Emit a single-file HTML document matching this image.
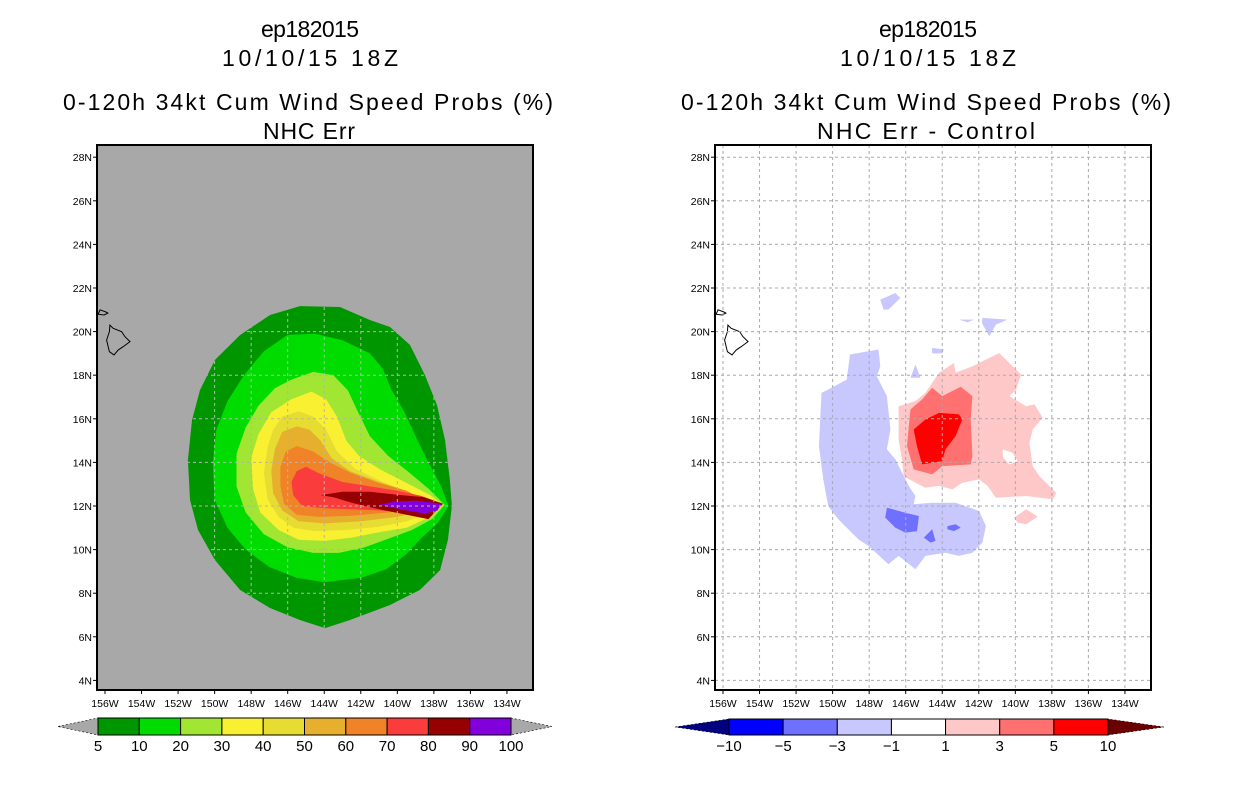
<!DOCTYPE html>
<html><head><meta charset="utf-8"><style>
html,body{margin:0;padding:0;background:#fff}
svg{display:block}
text{font-family:"Liberation Sans",sans-serif;fill:#000}
</style></head><body>
<svg id="chart" width="1236" height="800" viewBox="0 0 1236 800" xmlns="http://www.w3.org/2000/svg">
<g id="titles">
<text x="310" y="37" font-size="23" text-anchor="middle" textLength="98">ep182015</text>
<text x="310" y="66" font-size="23" text-anchor="middle" textLength="176">10/10/15 18Z</text>
<text x="308" y="110" font-size="23" text-anchor="middle" textLength="490">0-120h 34kt Cum Wind Speed Probs (%)</text>
<text x="309" y="139" font-size="23" text-anchor="middle" textLength="92">NHC Err</text>
<text x="928" y="37" font-size="23" text-anchor="middle" textLength="98">ep182015</text>
<text x="928" y="66" font-size="23" text-anchor="middle" textLength="176">10/10/15 18Z</text>
<text x="926" y="110" font-size="23" text-anchor="middle" textLength="490">0-120h 34kt Cum Wind Speed Probs (%)</text>
<text x="926" y="139" font-size="23" text-anchor="middle" textLength="218">NHC Err - Control</text>
</g>
</svg>
<script>
// ---- data (lon in deg W, lat in deg N) ----
const lonTicks=[156,154,152,150,148,146,144,142,140,138,136,134];
const latTicks=[28,26,24,22,20,18,16,14,12,10,8,6,4];
const probLevels=[5,10,20,30,40,50,60,70,80,90,100];
const probColors=["#009600","#00dc00","#a0e632","#faf032","#e6dc32","#e6af2d","#f08228","#fa3c3c","#960000","#8200dc"];
const diffLevels=[-10,-5,-3,-1,1,3,5,10];
const diffColors=["#0000ff","#7070ff","#c8c8ff","#ffffff","#ffc8c8","#ff7070","#ff0000"];
const prob5=[[145.33,21.17],[143.14,21.13],[141.5,20.53],[140.4,20.21],[139.31,19.39],[138.49,18.01],[137.83,16.63],[137.39,15.03],[137.12,13.19],[137.01,12],[137.23,10.44],[137.66,9.06],[138.76,8.15],[140.4,7.46],[142.59,6.77],[143.96,6.4],[145.33,6.77],[146.97,7.32],[148.61,8.15],[149.98,9.52],[150.91,10.9],[151.35,12.28],[151.46,14.11],[151.24,15.94],[150.8,17.32],[149.98,18.7],[148.61,19.84],[146.97,20.76]];
const prob10=[[146,19.85],[144.5,19.9],[143,19.6],[141.5,19.0],[140.8,18.3],[140.3,17.3],[139.6,16.3],[139,15.2],[138.3,14],[137.6,12.9],[137.2,12],[137.8,11.2],[138.6,10.6],[139.5,9.8],[140.6,9.1],[142,8.7],[144,8.5],[145.5,8.7],[147,9.2],[148.3,10],[149.3,11],[150,12.3],[150.1,14],[149.9,15.5],[149.3,16.8],[148.4,18],[147.3,19.1]];
const prob20=[[145.8,17.8],[144.6,18.15],[143.5,18],[142.7,17.3],[142.2,16.4],[141.5,15.2],[140.5,14.3],[139.3,13.5],[138.3,12.8],[137.4,12.05],[138.1,11.4],[139.2,10.9],[140.5,10.5],[141.8,10.1],[143.2,9.85],[144.6,9.85],[146,10.1],[147.3,10.7],[148.3,11.7],[148.8,12.9],[148.8,14.4],[148.3,15.6],[147.6,16.6],[146.7,17.4]];
const prob30=[[145.8,16.9],[144.7,17.25],[143.9,16.9],[143.3,16.1],[142.8,15],[142.1,14.3],[141,13.7],[139.6,13.1],[138.2,12.5],[137.5,12.05],[138.2,11.5],[139.5,11],[141,10.8],[142.5,10.55],[144,10.4],[145.4,10.45],[146.5,10.9],[147.5,11.7],[147.9,12.8],[148,14.2],[147.6,15.3],[146.9,16.3]];
const prob40=[[146.3,16.1],[145.4,16.35],[144.6,16.1],[143.9,15.5],[143.3,14.5],[142.3,13.7],[140.8,13.1],[139.3,12.6],[137.8,12.05],[138.3,11.7],[139.5,11.3],[141,11.05],[142.8,10.9],[144.5,10.85],[145.7,11],[146.5,11.5],[147.1,12.3],[147.3,13.5],[147.1,14.7],[146.8,15.5]];
const prob50=[[146.3,15.4],[145.5,15.65],[144.8,15.5],[144.2,15],[143.6,14.2],[142.6,13.6],[141,13.1],[139.5,12.7],[138,12.1],[138.5,11.8],[140,11.5],[142,11.3],[144,11.2],[145.4,11.3],[146.3,11.8],[146.8,12.6],[146.9,13.6],[146.7,14.6]];
const prob60=[[146.1,14.5],[145.5,14.75],[144.6,14.5],[143.7,14],[142.5,13.5],[141,13.05],[139.5,12.7],[138.2,12.1],[138.8,11.9],[140.5,11.7],[142.5,11.55],[144.3,11.5],[145.5,11.6],[146.2,12.1],[146.4,12.9],[146.4,13.8]];
const prob70=[[145.5,13.6],[145,13.8],[144.3,13.5],[143,13.1],[141.5,12.9],[140,12.7],[138.6,12.45],[138.2,12.1],[138.6,11.8],[139.5,11.7],[141,11.8],[142.5,11.85],[144,11.9],[145.2,12.0],[145.7,12.5],[145.8,13.1]];
const prob80=[[144.2,12.5],[143,12.65],[141.5,12.65],[139.8,12.5],[138.5,12.4],[137.5,12.1],[137.9,11.75],[138.3,11.4],[139.5,11.6],[141,11.85],[142.5,12.15],[143.5,12.4]];
const prob90=[[141,12.05],[140.2,12.2],[139,12.25],[137.6,12.1],[137.8,11.8],[138.5,11.65],[139.5,11.8],[140.4,11.95]];
const diffNeg1=[[149.05,18.95],[148.04,19.1],[147.49,19.18],[147.39,18.41],[147.58,17.95],[147.03,17.04],[146.84,15.51],[147.03,14.6],[146.57,14.14],[145.83,12.92],[145.47,12.46],[145.56,12.08],[144.55,12.15],[143.27,12.15],[141.98,11.77],[141.61,11.08],[141.8,10.32],[142.35,9.86],[143.08,9.71],[143.82,9.86],[144.92,9.71],[145.47,9.1],[146.39,9.71],[146.94,9.33],[148.04,10.17],[148.59,10.47],[149.69,11.39],[150.24,12.0],[150.51,13.22],[150.75,14.75],[150.61,17.19],[150.06,17.42],[149.23,17.8]];
const diffNeg1b=[[147.39,21.47],[146.57,21.77],[146.29,21.54],[146.94,21.01],[147.21,21.01]];
const diffNeg1c=[[141.8,20.63],[140.42,20.55],[141.06,20.32],[141.43,19.79],[141.83,20.4]];
const diffNeg1d=[[143.08,20.55],[142.26,20.55],[142.62,20.43]];
const diffNeg1e=[[144.55,19.25],[143.91,19.18],[144.0,19.0],[144.55,19.0]];
const diffNeg1f=[[145.47,18.49],[145.19,17.88],[145.74,17.88]];
const diffNeg3a=[[147.03,11.92],[146.02,11.69],[145.28,11.54],[145.38,10.85],[146.02,10.78],[146.57,11.01],[147.12,11.47]];
const diffNeg3b=[[145.01,10.55],[144.55,10.93],[144.37,10.4],[144.64,10.32]];
const diffNeg3c=[[143.72,11.08],[143.27,11.16],[142.99,11.01],[143.36,10.85],[143.72,10.93]];
const diffPos1=[[146.39,16.58],[145.47,16.81],[144.92,17.19],[144.18,18.11],[143.36,18.56],[143.27,18.11],[142.35,18.41],[140.88,19.02],[140.15,18.41],[139.69,18.03],[139.96,17.34],[140.33,17.04],[139.41,16.58],[138.95,16.66],[138.5,16.05],[139.05,15.51],[139.23,14.9],[139.05,13.83],[138.68,13.37],[137.76,12.61],[137.94,12.31],[139.41,12.46],[141.06,12.38],[141.52,12.92],[141.98,13.22],[142.9,13.07],[143.45,12.76],[144.18,12.92],[144.92,12.84],[145.65,13.15],[146.11,13.37],[146.2,14.14],[146.39,15.05]];
const diffPos1hole=[[140.7,14.6],[140.15,14.44],[139.87,14.06],[140.33,13.91],[140.66,14.21]];
const diffPos1b=[[140.06,11.47],[139.41,11.85],[138.77,11.51],[139.41,11.16],[139.87,11.24]];
const diffPos3=[[145.74,16.43],[145.1,16.89],[144.55,17.42],[144.0,17.04],[142.99,17.47],[142.35,17.04],[142.44,15.97],[142.35,14.29],[142.44,13.91],[144.0,13.83],[144.55,13.45],[145.56,13.68],[145.93,14.75],[145.83,15.66]];
const diffPos5=[[145.56,15.51],[144.92,15.97],[144.18,16.27],[143.08,16.2],[142.9,15.97],[143.27,15.21],[143.82,14.6],[144.0,14.06],[145.1,13.91],[145.38,14.75]];
const hawaiiBig=[[155.73,20.3],[155.55,20.15],[155.09,20.0],[154.91,19.77],[154.63,19.54],[155.0,19.31],[155.27,19.16],[155.51,18.93],[155.76,19.08],[155.91,19.61],[155.76,20.0]];
const hawaiiMaui=[[156.27,21.0],[155.95,20.9],[155.84,20.85],[156.05,20.76],[156.38,20.8]];

// ---- geometry ----
const NS="http://www.w3.org/2000/svg";
const svg=document.getElementById('chart');
const PW=436, PTOP=145, PBOT=690;
const LON0=156, PXDEG=18.27, LAT0=12, PYDEG=21.8;
function mk(tag,attrs,parent){const e=document.createElementNS(NS,tag);for(const k in attrs)e.setAttribute(k,attrs[k]);(parent||svg).appendChild(e);return e;}
function xs(x0){return lon=>x0+8+(LON0-lon)*PXDEG;}
function ys(lat){return 506-(lat-LAT0)*PYDEG;}
function pts(arr,xf){return arr.map(p=>xf(p[0]).toFixed(1)+","+ys(p[1]).toFixed(1)).join(" ");}

function panel(x0,bg,gridColor,fills,name,gridClip){
  const g=mk('g',{});
  
  
  const cid='clip'+x0;
  const xf=xs(x0);
  const cp=mk('clipPath',{id:cid},g);mk('rect',{x:x0,y:PTOP,width:PW,height:PBOT-PTOP},cp);
  let gridAttrs={'clip-path':'url(#'+cid+')'};
  if(gridClip){const gp=mk('clipPath',{id:'gclip'+x0},g);mk('polygon',{points:pts(gridClip,xf)},gp);gridAttrs={'clip-path':'url(#gclip'+x0+')'};}
  const bgR=mk('rect',{x:x0,y:PTOP,width:PW,height:PBOT-PTOP,fill:bg},g);
  
  
  const inner=mk('g',{'clip-path':'url(#'+cid+')'},g);
  fills.forEach(f=>{
    const p=mk('polygon',{points:pts(f.d,xf),fill:f.c},inner);
    
    
  });
  const gg=mk('g',gridAttrs,g);
  
  
  lonTicks.forEach(l=>{const x=xf(l);mk('line',{x1:x,x2:x,y1:PTOP,y2:PBOT,stroke:gridColor,'stroke-width':1,'stroke-dasharray':'3,3'},gg);});
  latTicks.forEach(l=>{const y=ys(l);mk('line',{x1:x0,x2:x0+PW,y1:y,y2:y,stroke:gridColor,'stroke-width':1,'stroke-dasharray':'3,3'},gg);});
  [hawaiiBig,hawaiiMaui].forEach(c=>{const p=mk('polygon',{points:pts(c,xf),fill:'none',stroke:'#000','stroke-width':1},inner);
    
    });
  const fr=mk('rect',{x:x0,y:PTOP,width:PW,height:PBOT-PTOP,fill:'none',stroke:'#000','stroke-width':2},g);
  
  
  lonTicks.forEach(l=>{const x=xf(l);mk('line',{x1:x,x2:x,y1:PBOT,y2:PBOT+4,stroke:'#000'},g);
    const t=mk('text',{x:x,y:PBOT+17,'font-size':10.5,'text-anchor':'middle'},g);t.textContent=l+'W';
    
    });
  latTicks.forEach(l=>{const y=ys(l);mk('line',{x1:x0-4,x2:x0,y1:y,y2:y,stroke:'#000'},g);
    const t=mk('text',{x:x0-5,y:y+4,'font-size':10.5,'text-anchor':'end'},g);t.textContent=l+'N';
    
    });
}

panel(97,'#a8a8a8','#b4b4b4',[
 {d:prob5,c:probColors[0],n:'prob-5'},{d:prob10,c:probColors[1],n:'prob-10'},{d:prob20,c:probColors[2],n:'prob-20'},
 {d:prob30,c:probColors[3],n:'prob-30'},{d:prob40,c:probColors[4],n:'prob-40'},{d:prob50,c:probColors[5],n:'prob-50'},
 {d:prob60,c:probColors[6],n:'prob-60'},{d:prob70,c:probColors[7],n:'prob-70'},{d:prob80,c:probColors[8],n:'prob-80'},
 {d:prob90,c:probColors[9],n:'prob-90'}],'left-panel',prob5);

panel(715,'#ffffff','#aaaaaa',[
 {d:diffNeg1,c:diffColors[2],n:'diff-neg1'},{d:diffNeg1b,c:diffColors[2],n:'diff-neg1'},{d:diffNeg1c,c:diffColors[2],n:'diff-neg1'},
 {d:diffNeg1d,c:diffColors[2],n:'diff-neg1'},{d:diffNeg1e,c:diffColors[2],n:'diff-neg1'},{d:diffNeg1f,c:diffColors[2],n:'diff-neg1'},
 {d:diffNeg3a,c:diffColors[1],n:'diff-neg3'},{d:diffNeg3b,c:diffColors[1],n:'diff-neg3'},{d:diffNeg3c,c:diffColors[1],n:'diff-neg3'},
 {d:diffPos1,c:diffColors[4],n:'diff-pos1'},{d:diffPos1hole,c:'#ffffff',n:'diff-hole'},{d:diffPos1b,c:diffColors[4],n:'diff-pos1'},
 {d:diffPos3,c:diffColors[5],n:'diff-pos3'},{d:diffPos5,c:diffColors[6],n:'diff-pos5'}],'right-panel',null);

// ---- colorbars ----
function colorbar(xa,xb,tipL,tipR,y0,y1,levels,colors,lc,rc,name){
  const g=mk('g',{});
  
  
  const n=colors.length,w=(xb-xa)/n,ym=(y0+y1)/2;
  const tl=mk('polygon',{points:`${tipL},${ym} ${xa},${y0} ${xa},${y1}`,fill:lc,stroke:'#000','stroke-width':0.6,'stroke-dasharray':'2,2'},g);
  
  
  const tr=mk('polygon',{points:`${tipR},${ym} ${xb},${y0} ${xb},${y1}`,fill:rc,stroke:'#000','stroke-width':0.6,'stroke-dasharray':'2,2'},g);
  
  
  colors.forEach((c,i)=>{const r=mk('rect',{x:xa+i*w,y:y0,width:w,height:y1-y0,fill:c,stroke:'#000','stroke-width':1},g);
    
    });
  levels.forEach((l,i)=>{const t=mk('text',{x:xa+i*w,y:y1+16,'font-size':15,'text-anchor':'middle'},g);
    t.textContent=String(l).replace('-','\u2212');
    
    });
}
colorbar(98,511,58,552,718,735,probLevels,probColors,'#a8a8a8','#a8a8a8','prob-colorbar');
colorbar(729,1108,675,1164,719,735,diffLevels,diffColors,'#000080','#6a0000','diff-colorbar');
</script>
</body></html>
